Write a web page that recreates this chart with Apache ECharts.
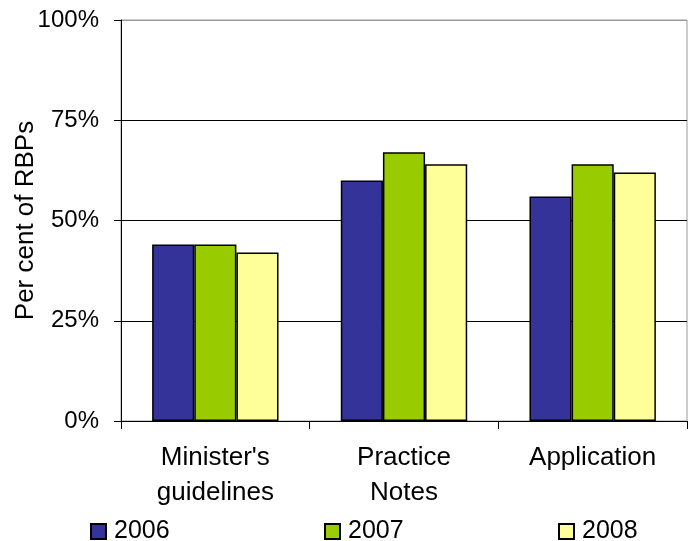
<!DOCTYPE html>
<html>
<head>
<meta charset="utf-8">
<script src="https://cdn.jsdelivr.net/npm/echarts@6/dist/echarts.min.js"></script>
<style>
  html, body { margin: 0; padding: 0; background: #fff; }
  #chart { width: 696px; height: 541px; }
</style>
</head>
<body>
<div id="chart"></div>
<script>
// Share of RBPs by guidance type, per year
const categories = ["Minister's\nguidelines", 'Practice\nNotes', 'Application'];
const years = ['2006', '2007', '2008'];
const values2006 = [44, 60, 56];
const values2007 = [44, 67, 64];
const values2008 = [42, 64, 62];
const yTicks = [0, 25, 50, 75, 100];

const colors = ['#333399', '#99CC00', '#FFFF99'];
const seriesValues = [values2006, values2007, values2008];
const FONT = '"Liberation Sans", Arial, sans-serif';

const chart = echarts.init(document.getElementById('chart'), null, { renderer: 'canvas' });

const legendLefts = [85, 319, 553];

chart.setOption({
  animation: false,
  backgroundColor: '#fff',
  textStyle: { fontFamily: FONT },
  grid: {
    left: 121, right: 9, top: 20, bottom: 120,
    outerBoundsMode: 'none',
    containLabel: false,
    show: true, borderColor: '#9a9a9a', borderWidth: 1
  },
  legend: years.map((y, i) => ({
    data: [y],
    left: legendLefts[i],
    top: 516,
    padding: [3, 5, 0, 5],
    itemWidth: 15,
    itemHeight: 15,
    icon: 'rect',
    textStyle: { fontSize: 25, color: '#000', fontFamily: FONT, padding: [0, 0, 0, 3] },
    selectedMode: false
  })),
  xAxis: {
    type: 'category',
    data: categories,
    boundaryGap: true,
    axisLine: { lineStyle: { color: '#000', width: 1 } },
    axisTick: { show: true, length: 8, lineStyle: { color: '#000' } },
    axisLabel: { fontSize: 26, color: '#000', lineHeight: 35, margin: 19, fontFamily: FONT }
  },
  yAxis: {
    type: 'value',
    min: yTicks[0],
    max: yTicks[yTicks.length - 1],
    interval: 25,
    name: 'Per cent of RBPs',
    nameLocation: 'middle',
    nameGap: 82,
    nameMoveOverlap: false,
    nameTextStyle: { fontSize: 26, color: '#000', fontFamily: FONT },
    axisLine: { show: true, lineStyle: { color: '#000', width: 1 } },
    axisTick: { show: true, length: 7, lineStyle: { color: '#000' } },
    axisLabel: { fontSize: 24, color: '#000', margin: 22, formatter: '{value}%', fontFamily: FONT },
    splitLine: { show: true, lineStyle: { color: ['#000', '#000', '#000', '#000', '#9a9a9a'], width: 1 } }
  },
  series: years.map((y, i) => ({
    name: y,
    type: 'bar',
    data: seriesValues[i],
    barGap: '0%',
    barCategoryGap: '33%',
    itemStyle: { color: colors[i], borderColor: '#000', borderWidth: 1.5 }
  }))
});
</script>
</body>
</html>
